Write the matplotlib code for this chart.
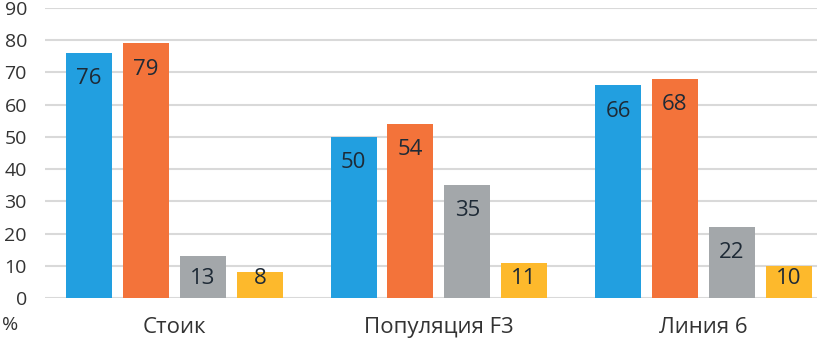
import numpy as np
import matplotlib.pyplot as plt

plt.rcParams['font.family'] = ['Open Sans', 'DejaVu Sans']

categories = ['Стоик', 'Популяция F3', 'Линия 6']
series = [
    [76, 50, 66],
    [79, 54, 68],
    [13, 35, 22],
    [8, 11, 10],
]
colors = ['#229fe0', '#f3733a', '#a3a7aa', '#fdb92c']
yticks = [0, 10, 20, 30, 40, 50, 60, 70, 80, 90]

fig = plt.figure(figsize=(8.17, 3.42), dpi=100)
ax = fig.add_axes([0.055, 0.1287, 0.945, 0.848])

x = np.arange(len(categories))
width = 0.174
step = 0.215
for i, vals in enumerate(series):
    xs = x + (i - 1.5) * step
    ax.bar(xs, vals, width, color=colors[i], zorder=3)
    for xx, v in zip(xs, vals):
        ax.text(xx, max(v - 8, 6), str(v), ha='center', va='center',
                fontsize=16, color='#1e2a36', zorder=4)

ax.set_xlim(-0.49, 2.43)
ax.set_ylim(0, 90)
ax.set_yticks(yticks)
ax.set_xticks(x)
ax.set_xticklabels(categories)
ax.grid(axis='y', color='#d9d9d9', linewidth=1.5, zorder=0)
for s in ax.spines.values():
    s.set_visible(False)
ax.tick_params(axis='both', length=0, colors='#333333')
ax.tick_params(axis='y', pad=13, labelsize=14)
ax.tick_params(axis='x', pad=14, labelsize=16)
fig.text(0.002, 0.05, '%', fontsize=14, color='#333333', va='center')

fig.savefig('out.png', dpi=100)
